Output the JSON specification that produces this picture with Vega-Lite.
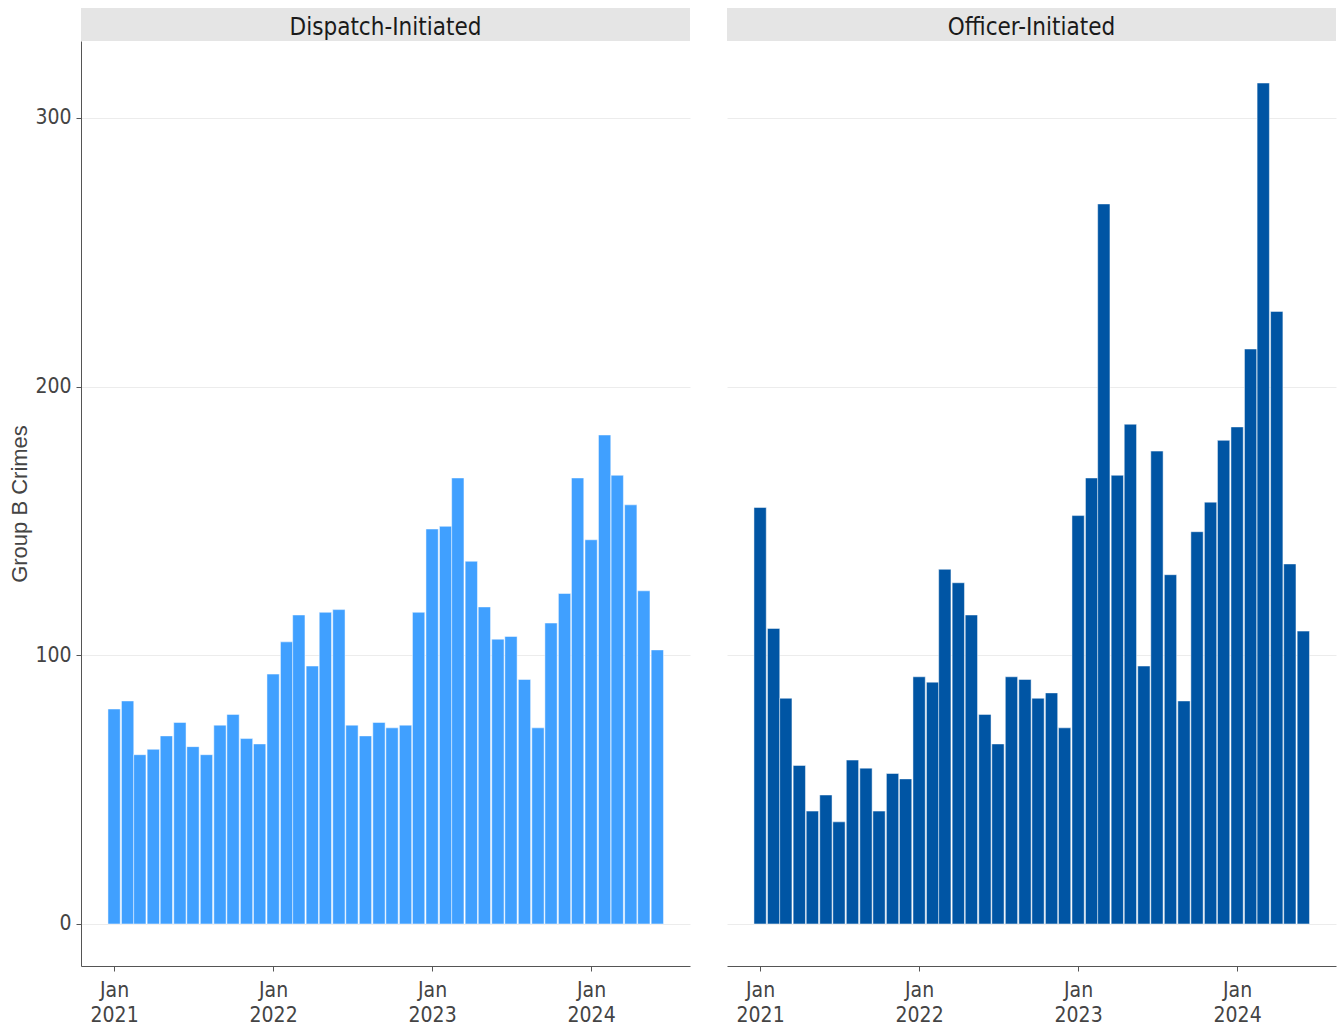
{
  "$schema": "https://vega.github.io/schema/vega-lite/v6.json",
  "autosize": {"type": "pad"},
  "padding": {"left": 8, "top": 8, "right": 4, "bottom": 5},
  "background": "white",
  "config": {
    "view": {"stroke": null},
    "font": "DejaVu Sans Condensed, DejaVu Sans",
    "axis": {"labelFont": "DejaVu Sans Condensed, DejaVu Sans", "titleFont": "Liberation Sans"}
  },
  "data": {
    "values": [
      {"p": "Dispatch-Initiated", "m": "2021-01-01", "n": 80},
      {"p": "Dispatch-Initiated", "m": "2021-02-01", "n": 83},
      {"p": "Dispatch-Initiated", "m": "2021-03-01", "n": 63},
      {"p": "Dispatch-Initiated", "m": "2021-04-01", "n": 65},
      {"p": "Dispatch-Initiated", "m": "2021-05-01", "n": 70},
      {"p": "Dispatch-Initiated", "m": "2021-06-01", "n": 75},
      {"p": "Dispatch-Initiated", "m": "2021-07-01", "n": 66},
      {"p": "Dispatch-Initiated", "m": "2021-08-01", "n": 63},
      {"p": "Dispatch-Initiated", "m": "2021-09-01", "n": 74},
      {"p": "Dispatch-Initiated", "m": "2021-10-01", "n": 78},
      {"p": "Dispatch-Initiated", "m": "2021-11-01", "n": 69},
      {"p": "Dispatch-Initiated", "m": "2021-12-01", "n": 67},
      {"p": "Dispatch-Initiated", "m": "2022-01-01", "n": 93},
      {"p": "Dispatch-Initiated", "m": "2022-02-01", "n": 105},
      {"p": "Dispatch-Initiated", "m": "2022-03-01", "n": 115},
      {"p": "Dispatch-Initiated", "m": "2022-04-01", "n": 96},
      {"p": "Dispatch-Initiated", "m": "2022-05-01", "n": 116},
      {"p": "Dispatch-Initiated", "m": "2022-06-01", "n": 117},
      {"p": "Dispatch-Initiated", "m": "2022-07-01", "n": 74},
      {"p": "Dispatch-Initiated", "m": "2022-08-01", "n": 70},
      {"p": "Dispatch-Initiated", "m": "2022-09-01", "n": 75},
      {"p": "Dispatch-Initiated", "m": "2022-10-01", "n": 73},
      {"p": "Dispatch-Initiated", "m": "2022-11-01", "n": 74},
      {"p": "Dispatch-Initiated", "m": "2022-12-01", "n": 116},
      {"p": "Dispatch-Initiated", "m": "2023-01-01", "n": 147},
      {"p": "Dispatch-Initiated", "m": "2023-02-01", "n": 148},
      {"p": "Dispatch-Initiated", "m": "2023-03-01", "n": 166},
      {"p": "Dispatch-Initiated", "m": "2023-04-01", "n": 135},
      {"p": "Dispatch-Initiated", "m": "2023-05-01", "n": 118},
      {"p": "Dispatch-Initiated", "m": "2023-06-01", "n": 106},
      {"p": "Dispatch-Initiated", "m": "2023-07-01", "n": 107},
      {"p": "Dispatch-Initiated", "m": "2023-08-01", "n": 91},
      {"p": "Dispatch-Initiated", "m": "2023-09-01", "n": 73},
      {"p": "Dispatch-Initiated", "m": "2023-10-01", "n": 112},
      {"p": "Dispatch-Initiated", "m": "2023-11-01", "n": 123},
      {"p": "Dispatch-Initiated", "m": "2023-12-01", "n": 166},
      {"p": "Dispatch-Initiated", "m": "2024-01-01", "n": 143},
      {"p": "Dispatch-Initiated", "m": "2024-02-01", "n": 182},
      {"p": "Dispatch-Initiated", "m": "2024-03-01", "n": 167},
      {"p": "Dispatch-Initiated", "m": "2024-04-01", "n": 156},
      {"p": "Dispatch-Initiated", "m": "2024-05-01", "n": 124},
      {"p": "Dispatch-Initiated", "m": "2024-06-01", "n": 102},
      {"p": "Officer-Initiated", "m": "2021-01-01", "n": 155},
      {"p": "Officer-Initiated", "m": "2021-02-01", "n": 110},
      {"p": "Officer-Initiated", "m": "2021-03-01", "n": 84},
      {"p": "Officer-Initiated", "m": "2021-04-01", "n": 59},
      {"p": "Officer-Initiated", "m": "2021-05-01", "n": 42},
      {"p": "Officer-Initiated", "m": "2021-06-01", "n": 48},
      {"p": "Officer-Initiated", "m": "2021-07-01", "n": 38},
      {"p": "Officer-Initiated", "m": "2021-08-01", "n": 61},
      {"p": "Officer-Initiated", "m": "2021-09-01", "n": 58},
      {"p": "Officer-Initiated", "m": "2021-10-01", "n": 42},
      {"p": "Officer-Initiated", "m": "2021-11-01", "n": 56},
      {"p": "Officer-Initiated", "m": "2021-12-01", "n": 54},
      {"p": "Officer-Initiated", "m": "2022-01-01", "n": 92},
      {"p": "Officer-Initiated", "m": "2022-02-01", "n": 90},
      {"p": "Officer-Initiated", "m": "2022-03-01", "n": 132},
      {"p": "Officer-Initiated", "m": "2022-04-01", "n": 127},
      {"p": "Officer-Initiated", "m": "2022-05-01", "n": 115},
      {"p": "Officer-Initiated", "m": "2022-06-01", "n": 78},
      {"p": "Officer-Initiated", "m": "2022-07-01", "n": 67},
      {"p": "Officer-Initiated", "m": "2022-08-01", "n": 92},
      {"p": "Officer-Initiated", "m": "2022-09-01", "n": 91},
      {"p": "Officer-Initiated", "m": "2022-10-01", "n": 84},
      {"p": "Officer-Initiated", "m": "2022-11-01", "n": 86},
      {"p": "Officer-Initiated", "m": "2022-12-01", "n": 73},
      {"p": "Officer-Initiated", "m": "2023-01-01", "n": 152},
      {"p": "Officer-Initiated", "m": "2023-02-01", "n": 166},
      {"p": "Officer-Initiated", "m": "2023-03-01", "n": 268},
      {"p": "Officer-Initiated", "m": "2023-04-01", "n": 167},
      {"p": "Officer-Initiated", "m": "2023-05-01", "n": 186},
      {"p": "Officer-Initiated", "m": "2023-06-01", "n": 96},
      {"p": "Officer-Initiated", "m": "2023-07-01", "n": 176},
      {"p": "Officer-Initiated", "m": "2023-08-01", "n": 130},
      {"p": "Officer-Initiated", "m": "2023-09-01", "n": 83},
      {"p": "Officer-Initiated", "m": "2023-10-01", "n": 146},
      {"p": "Officer-Initiated", "m": "2023-11-01", "n": 157},
      {"p": "Officer-Initiated", "m": "2023-12-01", "n": 180},
      {"p": "Officer-Initiated", "m": "2024-01-01", "n": 185},
      {"p": "Officer-Initiated", "m": "2024-02-01", "n": 214},
      {"p": "Officer-Initiated", "m": "2024-03-01", "n": 313},
      {"p": "Officer-Initiated", "m": "2024-04-01", "n": 228},
      {"p": "Officer-Initiated", "m": "2024-05-01", "n": 134},
      {"p": "Officer-Initiated", "m": "2024-06-01", "n": 109}
    ],
    "format": {"parse": {"m": "date:'%Y-%m-%d'"}}
  },
  "spacing": 37,
  "hconcat": [
    {
      "spacing": 0,
      "vconcat": [
        {
          "width": 609,
          "height": 33,
          "view": {"fill": "#e5e5e5", "stroke": null},
          "transform": [
            {"filter": "datum.p === 'Dispatch-Initiated'"},
            {"aggregate": [{"op": "count", "as": "c"}], "groupby": ["p"]}
          ],
          "mark": {"type": "text", "fontSize": 24, "color": "#1a1a1a", "baseline": "middle", "align": "center", "dy": 3},
          "encoding": {"text": {"field": "p", "type": "nominal"}}
        },
        {
          "width": 609,
          "height": 925,
          "transform": [{"filter": "datum.p === 'Dispatch-Initiated'"}],
          "mark": {"type": "bar", "width": 12.3, "color": "#40A0FF", "stroke": "#ffffff", "strokeWidth": 0.8, "strokeOpacity": 0.6},
          "encoding": {
            "x": {
              "field": "m", "type": "temporal",
              "scale": {"domain": [{"year": 2020, "month": 10, "date": 17}, {"year": 2024, "month": 8, "date": 15}], "padding": 0},
              "axis": {
                "values": [{"year": 2021, "month": 1, "date": 1}, {"year": 2022, "month": 1, "date": 1}, {"year": 2023, "month": 1, "date": 1}, {"year": 2024, "month": 1, "date": 1}],
                "labelExpr": "[timeFormat(datum.value, '%b'), timeFormat(datum.value, '%Y')]",
                "title": null, "grid": false,
                "domainColor": "#555555", "tickColor": "#555555", "tickSize": 5,
                "labelFontSize": 21, "labelColor": "#444444", "labelPadding": 8, "labelLineHeight": 25
              }
            },
            "y": {
              "field": "n", "type": "quantitative",
              "scale": {"domain": [-15.65, 328.65], "nice": false, "zero": false},
              "axis": {
                "values": [0, 100, 200, 300],
                "title": "Group B Crimes", "titleFontSize": 22, "titleFontWeight": "normal", "titleColor": "#444444", "titlePadding": 3,
                "labelFontSize": 21, "labelColor": "#444444", "labelPadding": 5,
                "tickSize": 5, "tickColor": "#555555", "domainColor": "#555555",
                "gridColor": "#ececec", "gridWidth": 1
              }
            },
            "y2": {"datum": 0}
          }
        }
      ]
    },
    {
      "spacing": 0,
      "vconcat": [
        {
          "width": 609,
          "height": 33,
          "view": {"fill": "#e5e5e5", "stroke": null},
          "transform": [
            {"filter": "datum.p === 'Officer-Initiated'"},
            {"aggregate": [{"op": "count", "as": "c"}], "groupby": ["p"]}
          ],
          "mark": {"type": "text", "fontSize": 24, "color": "#1a1a1a", "baseline": "middle", "align": "center", "dy": 3},
          "encoding": {"text": {"field": "p", "type": "nominal"}}
        },
        {
          "width": 609,
          "height": 925,
          "transform": [{"filter": "datum.p === 'Officer-Initiated'"}],
          "mark": {"type": "bar", "width": 12.3, "color": "#0055A4", "stroke": "#ffffff", "strokeWidth": 0.8, "strokeOpacity": 0.6},
          "encoding": {
            "x": {
              "field": "m", "type": "temporal",
              "scale": {"domain": [{"year": 2020, "month": 10, "date": 17}, {"year": 2024, "month": 8, "date": 15}], "padding": 0},
              "axis": {
                "values": [{"year": 2021, "month": 1, "date": 1}, {"year": 2022, "month": 1, "date": 1}, {"year": 2023, "month": 1, "date": 1}, {"year": 2024, "month": 1, "date": 1}],
                "labelExpr": "[timeFormat(datum.value, '%b'), timeFormat(datum.value, '%Y')]",
                "title": null, "grid": false,
                "domainColor": "#555555", "tickColor": "#555555", "tickSize": 5,
                "labelFontSize": 21, "labelColor": "#444444", "labelPadding": 8, "labelLineHeight": 25
              }
            },
            "y": {
              "field": "n", "type": "quantitative",
              "scale": {"domain": [-15.65, 328.65], "nice": false, "zero": false},
              "axis": {
                "values": [0, 100, 200, 300],
                "title": null, "labels": false, "ticks": false, "domain": false,
                "gridColor": "#ececec", "gridWidth": 1
              }
            },
            "y2": {"datum": 0}
          }
        }
      ]
    }
  ]
}
